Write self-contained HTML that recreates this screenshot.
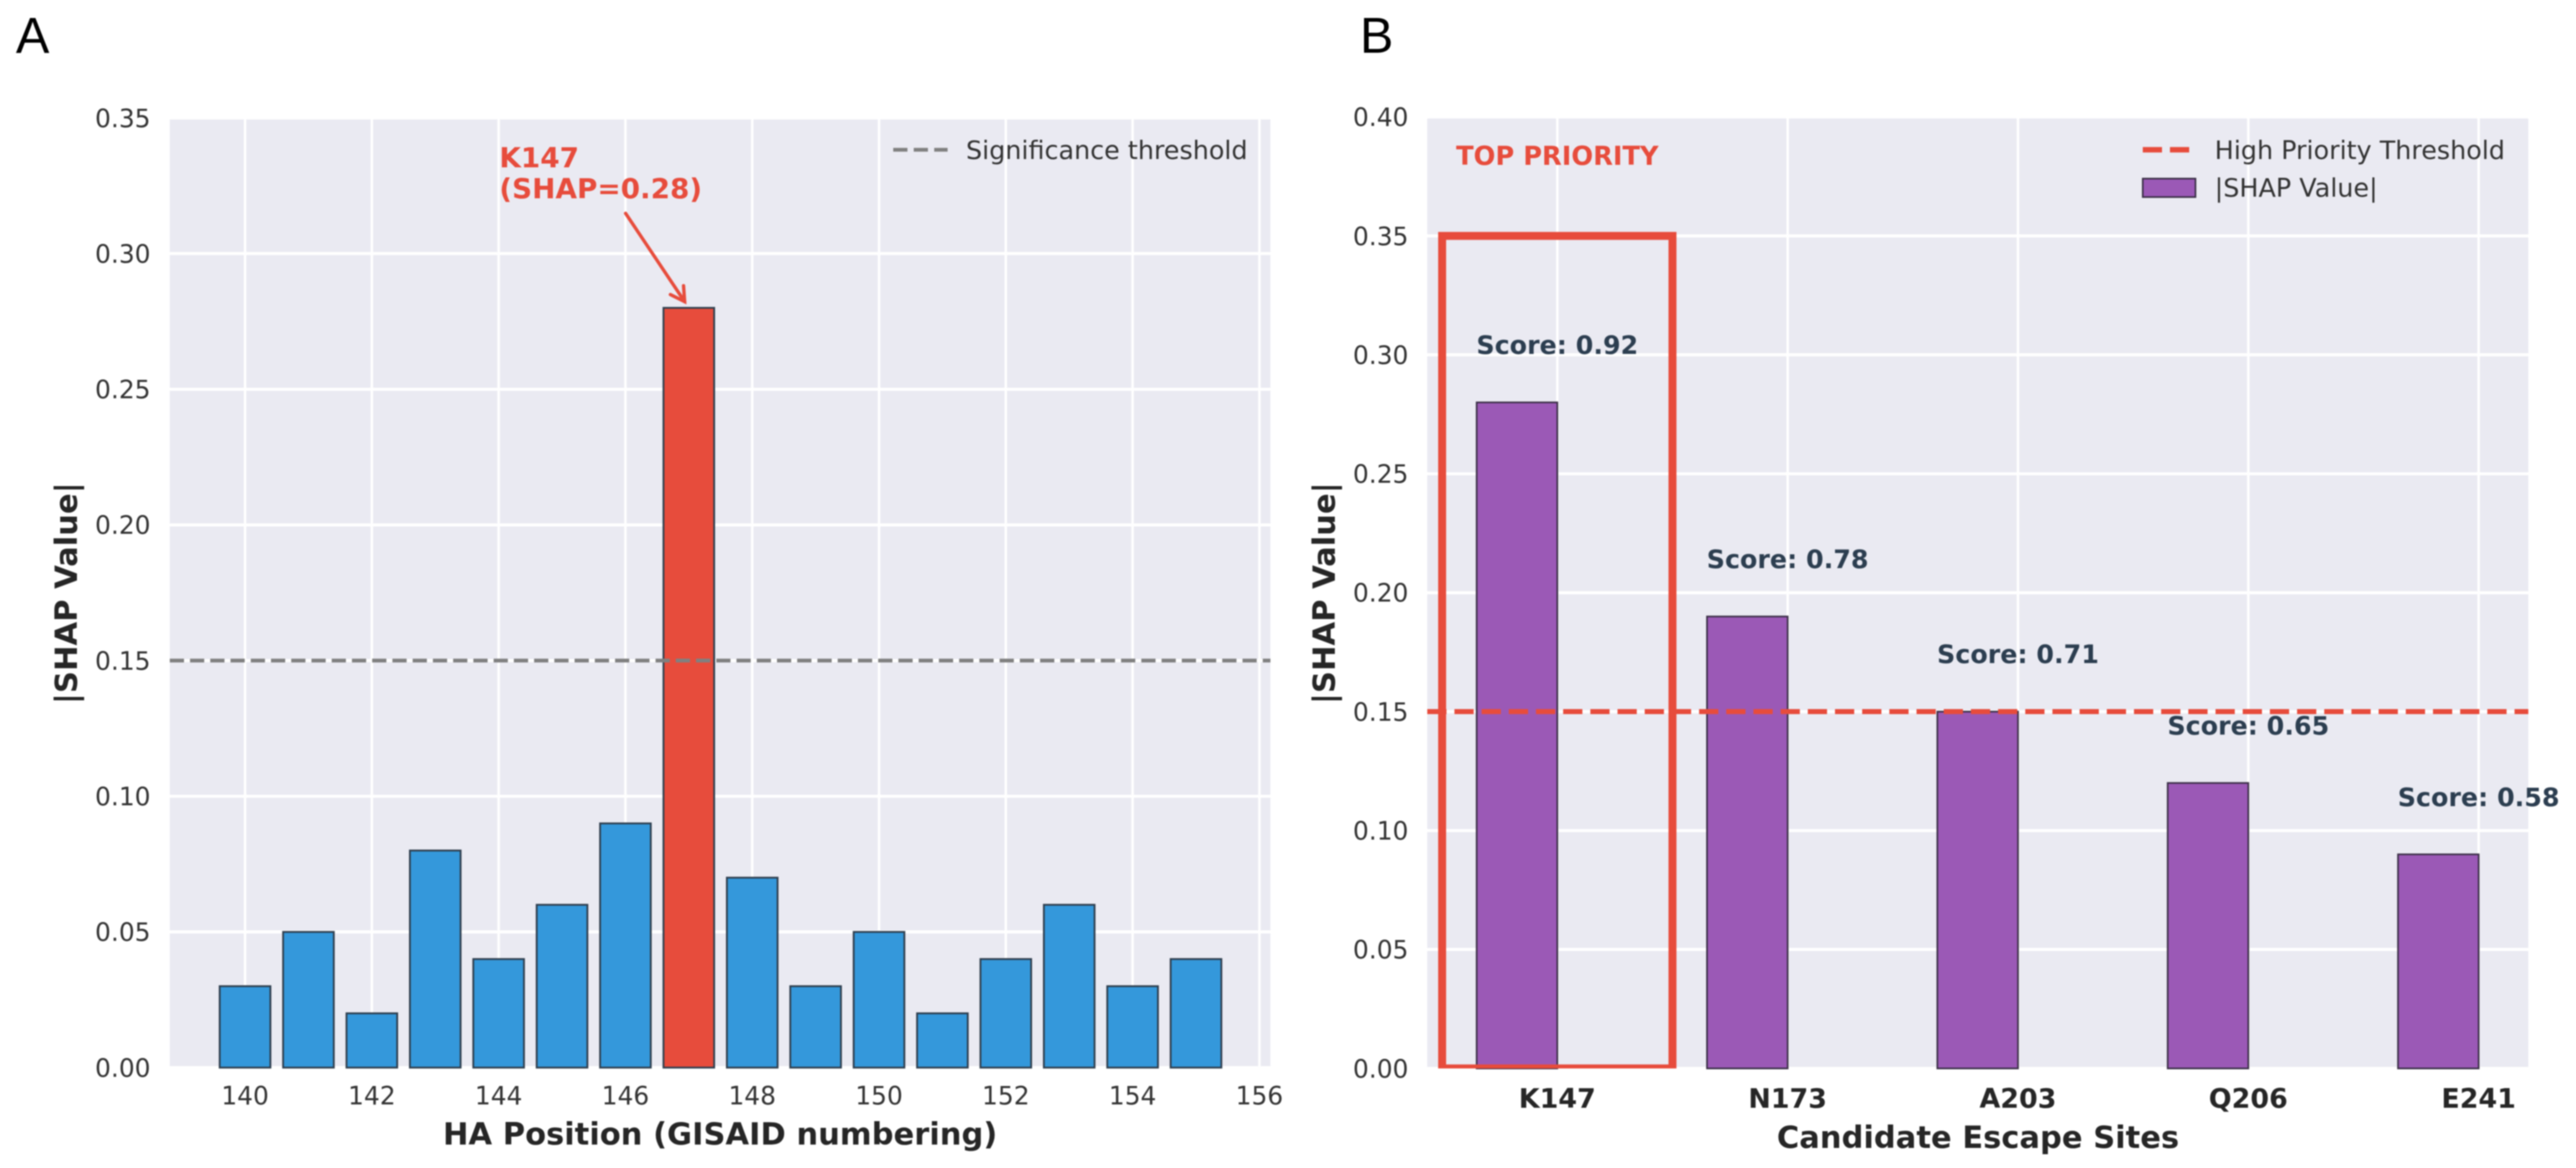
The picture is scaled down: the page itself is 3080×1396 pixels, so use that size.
<!DOCTYPE html>
<html lang="en">
<head>
<meta charset="utf-8">
<title>SHAP values by HA position and candidate escape sites</title>
<style>
html,body{margin:0;padding:0;background:#fff;width:3080px;height:1396px;overflow:hidden}
svg{display:block;filter:blur(0.7px)}
text{font-family:"DejaVu Sans","Liberation Sans",sans-serif}
.tick{font-size:29.8px;fill:#333}
.title{font-size:36.5px;font-weight:bold;fill:#262626}
.panel-letter{font-family:"Liberation Sans",sans-serif;font-size:60px;fill:#000}
.leg{font-size:30.4px;fill:#333}
</style>
</head>
<body>
<svg id="figure" xmlns="http://www.w3.org/2000/svg" width="3080" height="1396" viewBox="0 0 3080 1396">
  <defs>
    <clipPath id="clip-a"><rect x="203" y="141" width="1316" height="1135"/></clipPath>
    <clipPath id="clip-b"><rect x="1706.5" y="141" width="1316.5" height="1136"/></clipPath>
  </defs>
  <rect x="0" y="0" width="3080" height="1396" fill="#ffffff"/>
  <text class="panel-letter" x="19" y="63">A</text>
  <text class="panel-letter" x="1626" y="63">B</text>

  <g>
    <rect x="203" y="141" width="1316" height="1135" fill="#eaeaf2"/>
    <g id="a-grid" clip-path="url(#clip-a)"></g>
    <g id="a-bars"></g>
    <g id="a-threshold" clip-path="url(#clip-a)"></g>
    <g id="a-ticks"></g>
    <text class="title" x="861" y="1368" text-anchor="middle">HA Position (GISAID numbering)</text>
    <text class="title" transform="translate(92 709) rotate(-90)" text-anchor="middle">|SHAP Value|</text>
    <g>
      <line x1="1068" y1="179" x2="1133" y2="179" stroke="#808080" stroke-width="4.5" stroke-dasharray="17 7.5"/>
      <text class="leg" x="1155" y="190">Significance threshold</text>
    </g>
    <g>
      <text x="597" y="200" font-size="33.3" font-weight="bold" fill="#e74c3c">K147</text>
      <text x="597" y="237" font-size="33.3" font-weight="bold" fill="#e74c3c">(SHAP=0.28)</text>
      <g id="a-arrow"></g>
    </g>
  </g>

  <g>
    <rect x="1706.5" y="141" width="1316.5" height="1136" fill="#eaeaf2"/>
    <g id="b-grid" clip-path="url(#clip-b)"></g>
    <g id="b-bars"></g>
    <g id="b-threshold" clip-path="url(#clip-b)"></g>
    <g id="b-highlight" clip-path="url(#clip-b)"></g>
    <g id="b-scores"></g>
    <g id="b-ticks"></g>
    <text x="1741" y="197" font-size="30.7" font-weight="bold" fill="#e74c3c">TOP PRIORITY</text>
    <text class="title" x="2365" y="1372" text-anchor="middle">Candidate Escape Sites</text>
    <text class="title" transform="translate(1596 709) rotate(-90)" text-anchor="middle">|SHAP Value|</text>
    <g>
      <line x1="2562" y1="179" x2="2620" y2="179" stroke="#e74c3c" stroke-width="6.5" stroke-dasharray="23 9.5"/>
      <text class="leg" x="2648" y="190">High Priority Threshold</text>
      <rect x="2562" y="213.5" width="63" height="22" fill="#9b59b6" stroke="#3c3048" stroke-width="2"/>
      <text class="leg" x="2648" y="235">|SHAP Value|</text>
    </g>
  </g>
</svg>
<script>
// Panel A data
const positions = [140,141,142,143,144,145,146,147,148,149,150,151,152,153,154,155];
const shapByPosition = [0.03,0.05,0.02,0.08,0.04,0.06,0.09,0.28,0.07,0.03,0.05,0.02,0.04,0.06,0.03,0.04];
const highlightedPosition = 147;
const positionTicks = [140,142,144,146,148,150,152,154,156];
const shapTicksA = [0.00,0.05,0.10,0.15,0.20,0.25,0.30,0.35];
const significanceThreshold = [0.15];

// Panel B data
const sites = ['K147','N173','A203','Q206','E241'];
const shapBySite = [0.28,0.19,0.15,0.12,0.09];
const siteScores = [0.92,0.78,0.71,0.65,0.58];
const shapTicksB = [0.00,0.05,0.10,0.15,0.20,0.25,0.30,0.35,0.40];
const priorityThreshold = [0.15];
const topPrioritySiteIndex = [0];
const topPriorityCeiling = [0.35];

// Axis functions
function xA(v){ return 293 + 75.8 * (v - 140); }
function yA(v){ return 1276 - 3243 * v; }
function xB(i){ return 1862 + 275.4 * i; }
function yB(v){ return 1277 - 2843 * v; }

const NS = 'http://www.w3.org/2000/svg';
function mk(parent, tag, props, txt){
  const e = document.createElementNS(NS, tag);
  for (const k in props) e.setAttribute(k, props[k]);
  if (txt !== undefined) e.textContent = txt;
  parent.appendChild(e);
  return e;
}
const $ = id => document.getElementById(id);
let el;

// Panel A grid
shapTicksA.forEach(function(t){
  el = mk($('a-grid'),'line',{x1:203,x2:1519,y1:yA(t),y2:yA(t),stroke:'#ffffff','stroke-width':3.6});
  
  
  el = mk($('a-ticks'),'text',{class:'tick',x:180,y:yA(t)+10.8,'text-anchor':'end'},t.toFixed(2));
  
  
});
positionTicks.forEach(function(t){
  el = mk($('a-grid'),'line',{x1:xA(t),x2:xA(t),y1:141,y2:1276,stroke:'#ffffff','stroke-width':3});
  
  
  el = mk($('a-ticks'),'text',{class:'tick',x:xA(t),y:1320,'text-anchor':'middle'},String(t));
  
  
});

// Panel A bars
positions.forEach(function(p,i){
  const top = yA(shapByPosition[i]);
  el = mk($('a-bars'),'rect',{x:xA(p)-30.3,y:top,width:60.6,height:yA(0)-top,
    fill:p===highlightedPosition?'#e74c3c':'#3498db',stroke:'#2f3f4f','stroke-width':2.2});
  
  
});

// Panel A threshold
significanceThreshold.forEach(function(t){
  el = mk($('a-threshold'),'line',{x1:203,x2:1519,y1:yA(t),y2:yA(t),stroke:'#808080','stroke-width':4.5,'stroke-dasharray':'17 7.2'});
  
  
});

// Panel A arrow, pointing at the highlighted bar
(function(){
  const idx = positions.indexOf(highlightedPosition);
  const bx = xA(highlightedPosition), by = yA(shapByPosition[idx]);
  const sx = 748, sy = 255;
  const len = Math.hypot(bx-sx, by-sy);
  const ux = (bx-sx)/len, uy = (by-sy)/len;
  const tx = bx - ux*9, ty = by - uy*9;
  el = mk($('a-arrow'),'line',{x1:sx,y1:sy,x2:tx,y2:ty,stroke:'#e74c3c','stroke-width':4,'stroke-linecap':'round'});
  
  
  const c = Math.cos(0.52), s = Math.sin(0.52), L = 19;
  const ax = tx - L*(ux*c - uy*s), ay = ty - L*(uy*c + ux*s);
  const cx = tx - L*(ux*c + uy*s), cy = ty - L*(uy*c - ux*s);
  el = mk($('a-arrow'),'polyline',{points:ax+','+ay+' '+tx+','+ty+' '+cx+','+cy,fill:'none',stroke:'#e74c3c','stroke-width':4,'stroke-linecap':'round'});
  
  
})();

// Panel B grid
shapTicksB.forEach(function(t){
  el = mk($('b-grid'),'line',{x1:1706.5,x2:3023,y1:yB(t),y2:yB(t),stroke:'#ffffff','stroke-width':3.6});
  
  
  el = mk($('b-ticks'),'text',{class:'tick',x:1684,y:yB(t)+10.8,'text-anchor':'end'},t.toFixed(2));
  
  
});

// Panel B bars, category labels and score labels
sites.forEach(function(site,i){
  el = mk($('b-grid'),'line',{x1:xB(i),x2:xB(i),y1:141,y2:1277,stroke:'#ffffff','stroke-width':3});
  
  
  const top = yB(shapBySite[i]);
  el = mk($('b-bars'),'rect',{x:xB(i)-96.4,y:top,width:96.4,height:yB(0)-top,fill:'#9b59b6',stroke:'#3c3048','stroke-width':2});
  
  
  el = mk($('b-ticks'),'text',{x:xB(i),y:1324,'text-anchor':'middle','font-size':32.2,'font-weight':'bold',fill:'#262626'},site);
  
  
  el = mk($('b-scores'),'text',{x:xB(i),y:yB(shapBySite[i]+0.02)-1,'text-anchor':'middle','font-size':30.3,'font-weight':'bold',fill:'#2c3e50'},'Score: '+siteScores[i].toFixed(2));
  
  
});

// Panel B threshold
priorityThreshold.forEach(function(t){
  el = mk($('b-threshold'),'line',{x1:1706.5,x2:3023,y1:yB(t),y2:yB(t),stroke:'#e74c3c','stroke-width':6,'stroke-dasharray':'23 9.5'});
  
  
});

// Panel B highlight box
topPrioritySiteIndex.forEach(function(i){
  const l = xB(i-0.5), r = xB(i+0.5), t = yB(topPriorityCeiling[0]), b = yB(0);
  el = mk($('b-highlight'),'rect',{x:l,y:t,width:r-l,height:b-t,fill:'none',stroke:'#e74c3c','stroke-width':9.5});
  
  
});
</script>
</body>
</html>
